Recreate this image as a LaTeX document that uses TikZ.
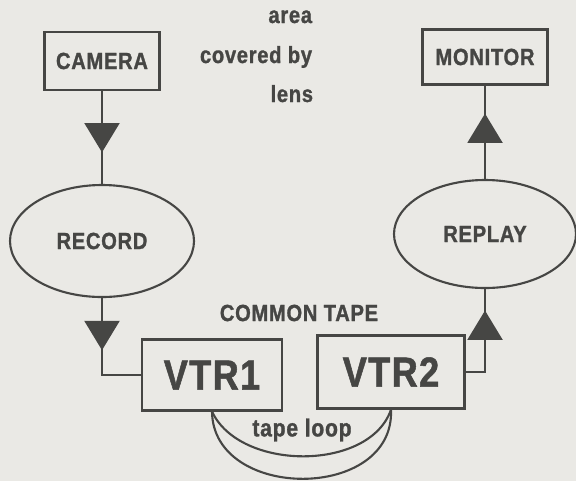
\documentclass[tikz,border=0pt]{standalone}
\usepackage{fontspec}
\setmainfont{Liberation Sans}[FakeStretch=0.86,LetterSpace=3,BoldFeatures={FakeBold=1.2}]
\usetikzlibrary{shapes.geometric,arrows.meta,decorations.markings}

\definecolor{ink}{RGB}{70,70,68}
\definecolor{paper}{RGB}{234,233,229}

\tikzset{
  flow at/.style={postaction={decorate},
    decoration={markings,mark=at position #1 with {\arrow{Triangle[width=10.5mm,length=8.8mm]}}}},
}

\begin{document}
\begin{tikzpicture}[x=0.3mm,y=-0.3mm,line width=1.8pt,color=ink,
    box/.style={draw,rectangle,inner sep=0pt,font=\bfseries\fontsize{20}{24}\selectfont},
    oval/.style={draw,ellipse,inner sep=0pt,font=\bfseries\fontsize{20}{24}\selectfont},
    tag/.style={font=\bfseries\fontsize{20}{24}\selectfont}]
      \fill[paper] (0,0) rectangle (576,481);
      \useasboundingbox (0,0) rectangle (576,481);

      \node[box,minimum width=34.5mm,minimum height=17.4mm] (camera) at (102,61) {CAMERA};
      \node[box,minimum width=37.5mm,minimum height=16.5mm] (monitor) at (485,57) {MONITOR};
      \node[oval,minimum width=55.2mm,minimum height=33.6mm] (record) at (102,241) {RECORD};
      \node[oval,minimum width=54.6mm,minimum height=32.4mm] (replay) at (485,234) {REPLAY};
      \node[box,minimum width=42mm,minimum height=21.3mm,font=\bfseries\fontsize{36}{40}\selectfont] (vtr1) at (212,375) {VTR1};
      \node[box,minimum width=44.1mm,minimum height=21.9mm,font=\bfseries\fontsize{36}{40}\selectfont] (vtr2) at (391,372) {VTR2};

      \node[tag] (common) at (299,313) {COMMON TAPE};
      \node[tag,font=\bfseries\fontsize{21}{24}\selectfont] (loop) at (302,430) {tape loop};
      \node[tag,anchor=base east] (area) at (317,23) {area};
      \node[tag,anchor=base east] (covered) at (317,63) {covered by};
      \node[tag,anchor=base east] (lens) at (318,102) {lens};

      \draw[flow at=0.66] (camera) -- (record);
      \draw[flow at=0.70] (replay) -- (monitor);
      \draw[flow at=0.45] (record) |- (vtr1);
      \draw[flow at=0.79] (vtr2) -| (replay);

      \draw (vtr1.south) .. controls +(1,90) and +(4,92) .. (vtr2.south);
      \draw (vtr1.south) .. controls +(28,60) and +(-21,62) .. (vtr2.south);
    \end{tikzpicture}
\end{document}
